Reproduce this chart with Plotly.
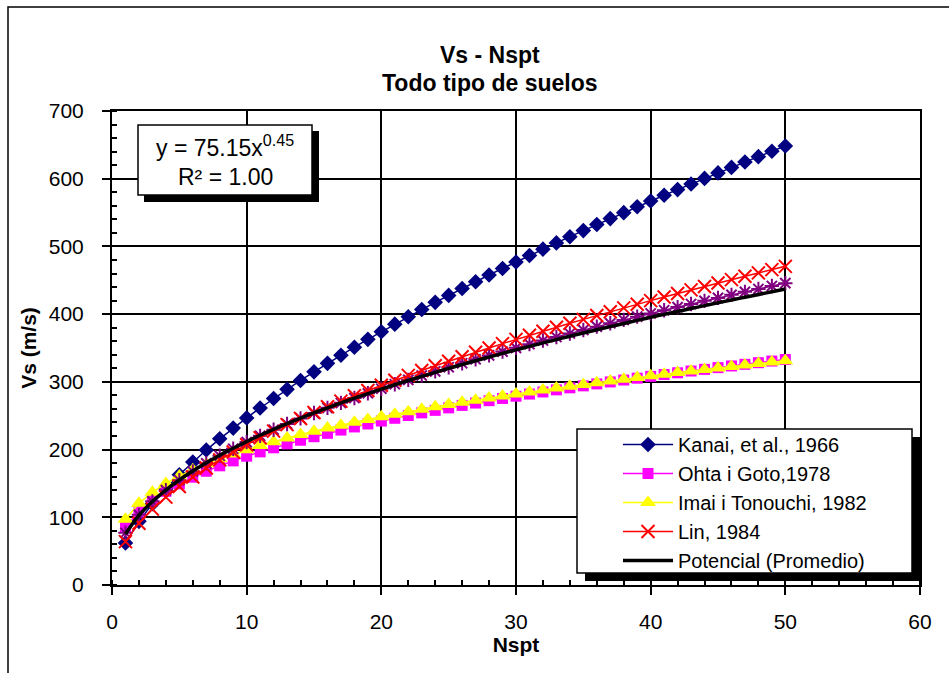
import plotly.graph_objects as go

nspt = list(range(1, 51))

kanai = [62.0, 94.0, 119.9, 142.4, 162.8, 181.7, 199.3, 215.9, 231.7, 246.8,
         261.4, 275.4, 288.9, 302.1, 314.8, 327.3, 339.4, 351.2, 362.8, 374.1,
         385.2, 396.1, 406.8, 417.4, 427.7, 437.9, 447.9, 457.8, 467.5, 477.1,
         486.7, 496.0, 505.2, 514.4, 523.4, 532.3, 541.1, 549.9, 558.6, 567.1,
         575.6, 583.9, 592.2, 600.5, 608.6, 616.7, 624.7, 632.6, 640.5, 648.3]

ohta = [85.4, 108.6, 125.1, 138.3, 149.4, 159.2, 168.0, 176.0, 183.3, 190.2,
        196.6, 202.6, 208.4, 213.8, 219.0, 224.0, 228.8, 233.4, 237.8, 242.1,
        246.2, 250.3, 254.2, 257.9, 261.6, 265.2, 268.7, 272.2, 275.5, 278.8,
        282.0, 285.1, 288.2, 291.2, 294.1, 297.0, 299.9, 302.7, 305.4, 308.1,
        310.8, 313.4, 316.0, 318.5, 321.0, 323.5, 325.9, 328.3, 330.7, 333.0]

imai = [97.0, 120.6, 137.0, 149.9, 160.8, 170.3, 178.7, 186.3, 193.4, 199.9,
        205.9, 211.7, 217.0, 222.2, 227.0, 231.7, 236.1, 240.4, 244.5, 248.5,
        252.3, 256.0, 259.6, 263.1, 266.5, 269.8, 273.0, 276.2, 279.2, 282.2,
        285.2, 288.0, 290.8, 293.5, 296.2, 298.8, 301.4, 304.0, 306.5, 308.9,
        311.3, 313.7, 316.0, 318.3, 320.5, 322.8, 324.9, 327.1, 329.2, 331.3]

lin = [64.0, 91.1, 112.1, 129.8, 145.4, 159.6, 172.7, 184.8, 196.3, 207.1,
       217.4, 227.3, 236.8, 245.9, 254.7, 263.2, 271.5, 279.5, 287.3, 294.9,
       302.3, 309.6, 316.7, 323.7, 330.5, 337.1, 343.7, 350.1, 356.5, 362.7,
       368.8, 374.8, 380.7, 386.6, 392.3, 398.0, 403.6, 409.2, 414.6, 420.0,
       425.3, 430.6, 435.8, 440.9, 446.0, 451.0, 456.0, 460.9, 465.8, 470.6]

promedio = [77.1, 103.6, 123.5, 140.1, 154.6, 167.7, 179.7, 190.8, 201.2, 211.0,
            220.3, 229.3, 237.8, 246.0, 253.9, 261.6, 269.0, 276.1, 283.1, 289.9,
            296.5, 303.0, 309.3, 315.5, 321.6, 327.5, 333.3, 339.1, 344.7, 350.2,
            355.7, 361.0, 366.2, 371.4, 376.5, 381.5, 386.5, 391.5, 396.3, 401.0,
            405.8, 410.4, 415.0, 419.6, 424.0, 428.5, 432.9, 437.2, 441.6, 445.8]

trend = [75.2, 102.7, 123.2, 140.2, 155.1, 168.3, 180.4, 191.6, 202.0, 211.8,
         221.1, 229.9, 238.3, 246.4, 254.2, 261.7, 268.9, 275.9, 282.7, 289.3,
         295.7, 302.0, 308.1, 314.1, 319.9, 325.6, 331.2, 336.6, 342.0, 347.2,
         352.4, 357.5, 362.4, 367.4, 372.2, 376.9, 381.6, 386.2, 390.8, 395.2,
         399.6, 404.0, 408.3, 412.6, 416.8, 420.9, 425.0, 429.0, 433.0, 437.0]

names = ["Kanai, et al., 1966", "Ohta i Goto,1978", "Imai i Tonouchi, 1982",
         "Lin, 1984", "Potencial (Promedio)"]

W, H = 949, 673
L, R, T, B = 112, 920, 111, 585
FONT = "Arial, Liberation Sans, Helvetica, sans-serif"


def px(x):
    return (x - L) / (R - L)


def py(y):
    return (B - y) / (B - T)


fig = go.Figure()

fig.add_trace(go.Scatter(x=nspt, y=kanai, name=names[0], mode="lines+markers",
                         line=dict(color="#000080", width=1.5),
                         marker=dict(symbol="diamond", size=12, color="#000080")))
fig.add_trace(go.Scatter(x=nspt, y=ohta, name=names[1], mode="lines+markers",
                         line=dict(color="#FF00FF", width=1.5),
                         marker=dict(symbol="square", size=11, color="#FF00FF")))
fig.add_trace(go.Scatter(x=nspt, y=imai, name=names[2], mode="lines+markers",
                         line=dict(color="#FFFF00", width=1.5),
                         marker=dict(symbol="triangle-up", size=14, color="#FFFF00")))
fig.add_trace(go.Scatter(x=nspt, y=promedio, name="Promedio", mode="lines+markers",
                         showlegend=False,
                         line=dict(color="#800080", width=1.5),
                         marker=dict(symbol="asterisk-open", size=12,
                                     line=dict(color="#800080", width=2))))
fig.add_trace(go.Scatter(x=nspt, y=lin, name=names[3], mode="lines+markers",
                         line=dict(color="#FF0000", width=1.5),
                         marker=dict(symbol="x-thin-open", size=13,
                                     line=dict(color="#FF0000", width=2))))
fig.add_trace(go.Scatter(x=nspt, y=trend, name=names[4], mode="lines",
                         line=dict(color="#000000", width=3.5, shape="spline")))

shapes = []
# outer chart frame
shapes.append(dict(type="rect", xref="paper", yref="paper",
                   x0=px(8), x1=px(1000), y0=py(7), y1=py(720),
                   line=dict(color="black", width=1.5), layer="below"))
# equation box shadow + box
shapes.append(dict(type="rect", xref="paper", yref="paper",
                   x0=px(144), x1=px(319), y0=py(131), y1=py(202),
                   fillcolor="black", line=dict(width=0), layer="above"))
shapes.append(dict(type="rect", xref="paper", yref="paper",
                   x0=px(138), x1=px(312), y0=py(125), y1=py(195),
                   fillcolor="white", line=dict(color="black", width=1.5), layer="above"))
# legend box shadow + box
shapes.append(dict(type="rect", xref="paper", yref="paper",
                   x0=px(585), x1=px(920), y0=py(437), y1=py(581),
                   fillcolor="black", line=dict(width=0), layer="above"))
shapes.append(dict(type="rect", xref="paper", yref="paper",
                   x0=px(577), x1=px(912), y0=py(429), y1=py(573),
                   fillcolor="white", line=dict(color="black", width=1.5), layer="above"))


def note(text, x, y, size, bold=False):
    return dict(text=f"<b>{text}</b>" if bold else text,
                xref="paper", yref="paper", x=px(x), y=py(y),
                xanchor="center", yanchor="middle", showarrow=False,
                font=dict(size=size, color="black", family=FONT))


annotations = [
    note("Vs - Nspt", 490, 55, 23, bold=True),
    note("Todo tipo de suelos", 490, 83, 23, bold=True),
    note("y = 75.15x<sup>0.45</sup>", 225, 146, 23),
    note("R² = 1.00", 225, 177, 23),
]

fig.update_layout(
    width=W, height=H,
    margin=dict(l=L, r=W - R, t=T, b=H - B),
    paper_bgcolor="white", plot_bgcolor="white",
    font=dict(family=FONT, size=21, color="black"),
    shapes=shapes, annotations=annotations,
    showlegend=True,
    legend=dict(x=px(618), y=py(425), xanchor="left", yanchor="top",
                bgcolor="rgba(0,0,0,0)", borderwidth=0,
                font=dict(size=20, family=FONT, color="black"),
                itemwidth=50, tracegroupgap=0),
    xaxis=dict(range=[0, 60], dtick=10, tick0=0,
               showgrid=True, gridcolor="black", gridwidth=1.5,
               showline=True, linecolor="black", linewidth=2, mirror=True,
               ticks="outside", ticklen=8, tickwidth=1.5, tickcolor="black",
               minor=dict(dtick=2, ticks="inside", ticklen=5, tickwidth=1.5,
                          tickcolor="black", showgrid=False),
               zeroline=False, ticklabelstandoff=9,
               title=dict(text="<b>Nspt</b>", standoff=0,
                          font=dict(size=21, family=FONT))),
    yaxis=dict(range=[0, 700], dtick=100, tick0=0,
               showgrid=True, gridcolor="black", gridwidth=1.5,
               showline=True, linecolor="black", linewidth=2, mirror=True,
               ticks="outside", ticklen=8, tickwidth=1.5, tickcolor="black",
               minor=dict(dtick=20, ticks="inside", ticklen=5, tickwidth=1.5,
                          tickcolor="black", showgrid=False),
               zeroline=False, ticklabelstandoff=14,
               title=dict(text="<b>Vs (m/s)</b>", standoff=6,
                          font=dict(size=21, family=FONT))),
)

fig.write_html("out.html")
